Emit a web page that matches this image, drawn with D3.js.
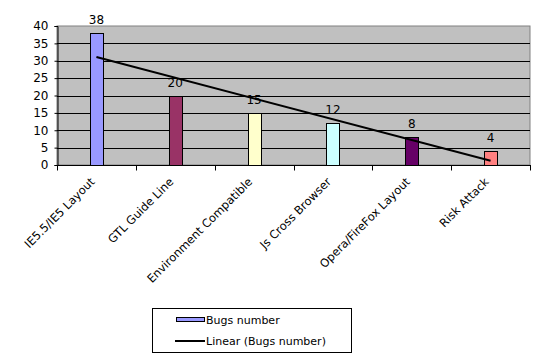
<!DOCTYPE html>
<html><head><meta charset="utf-8">
<script src="https://cdn.jsdelivr.net/npm/d3@7/dist/d3.min.js"></script>
<style>body{margin:0;background:#fff}svg{display:block}text{font-family:"DejaVu Sans",Verdana,sans-serif;font-size:11px;fill:#000}</style>
</head><body>
<script>
const categories = ["IE5.5/IE5 Layout","GTL Guide Line","Environment Compatible","Js Cross Browser","Opera/FireFox Layout","Risk Attack"];
const values = [38,20,15,12,8,4];
const colors = ["#9999FF","#993366","#FFFFCC","#CCFFFF","#660066","#FF8080"];
const yTicks = [0,5,10,15,20,25,30,35,40];
const seriesName = "Bugs number";
const trendName = "Linear (Bugs number)";

const W=547,H=358;
const svg=d3.select("body").append("svg").attr("width",W).attr("height",H);
const L=57,R=530,T=26,B=165;
const x=d3.scaleBand().domain(categories).range([L,R]);
const y=d3.scaleLinear().domain([0,40]).range([B,T]);

svg.append("rect").attr("x",L).attr("y",T).attr("width",R-L).attr("height",B-T).attr("fill","#C0C0C0").attr("stroke","#808080");
// grid
svg.append("g").selectAll("line").data(yTicks.slice(1,-1)).join("line")
 .attr("x1",L).attr("x2",R).attr("y1",d=>Math.round(y(d))+0.5).attr("y2",d=>Math.round(y(d))+0.5).attr("stroke","#000");

// bars
const bw=13;
svg.append("g").selectAll("rect").data(values).join("rect")
 .attr("x",(d,i)=>Math.round(x(categories[i])+x.bandwidth()/2-bw/2)+0.5)
 .attr("y",d=>Math.round(y(d))+0.5)
 .attr("width",bw).attr("height",d=>Math.round(y(0))-Math.round(y(d)))
 .attr("fill",(d,i)=>colors[i]).attr("stroke","#000");

// value labels
svg.append("g").selectAll("text").data(values).join("text")
 .attr("x",(d,i)=>x(categories[i])+x.bandwidth()/2)
 .attr("y",d=>y(d)-9).attr("text-anchor","middle").style("font-size","12px").text(d=>d);

// trend line (least squares)
const n=values.length, xs=values.map((d,i)=>i+1);
const mx=d3.mean(xs), my=d3.mean(values);
const slope=d3.sum(xs,(v,i)=>(v-mx)*(values[i]-my))/d3.sum(xs,v=>(v-mx)*(v-mx));
const icpt=my-slope*mx;
svg.append("line")
 .attr("x1",x(categories[0])+x.bandwidth()/2).attr("y1",y(icpt+slope*1))
 .attr("x2",x(categories[n-1])+x.bandwidth()/2).attr("y2",y(icpt+slope*n))
 .attr("stroke","#000").attr("stroke-width",2);

// axes
const ya=svg.append("g").attr("transform",`translate(${L+0.5},0)`)
 .call(d3.axisLeft(y).tickValues(yTicks).tickSize(3).tickPadding(6));
ya.select(".domain").attr("stroke","#000");
ya.selectAll("text").style("font-size","12px").attr("font-family","DejaVu Sans");
const xa=svg.append("g").attr("transform",`translate(0,${B+0.5})`);
xa.append("line").attr("x1",L).attr("x2",R+1).attr("stroke","#000");
const edges=categories.map(c=>x(c)).concat([R]);
xa.selectAll(".tk").data(edges).join("line").attr("class","tk")
 .attr("x1",d=>Math.round(d)+0.5).attr("x2",d=>Math.round(d)+0.5).attr("y1",0).attr("y2",5).attr("stroke","#000");
xa.selectAll(".lb").data(categories).join("text").attr("class","lb")
 .attr("text-anchor","end").style("font-size","11.5px")
 .attr("transform",d=>`translate(${x(d)+x.bandwidth()/2-1},${17}) rotate(-45)`)
 .text(d=>d);

// legend
const lg=svg.append("g");
lg.append("rect").attr("x",152.5).attr("y",308.5).attr("width",199).attr("height",44).attr("fill","#fff").attr("stroke","#000");
lg.append("rect").attr("x",176.5).attr("y",317.5).attr("width",28).attr("height",4).attr("fill",colors[0]).attr("stroke","#000");
lg.append("text").attr("x",206).attr("y",324).style("font-size","11px").text(seriesName);
lg.append("line").attr("x1",175).attr("x2",205).attr("y1",341).attr("y2",341).attr("stroke","#000").attr("stroke-width",2);
lg.append("text").attr("x",206).attr("y",345).style("font-size","11px").text(trendName);
</script>
</body></html>
